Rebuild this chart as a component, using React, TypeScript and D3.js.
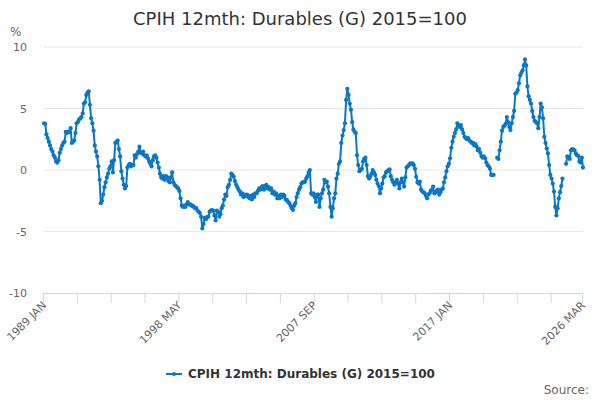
import React from 'react'
import { scalePoint, scaleLinear, line } from 'd3'

// CPIH 12 month rate, durables, monthly from 1989 JAN to 2026 MAR (null = no value)
const YEARS = [
  1989, 1990, 1991, 1992, 1993, 1994, 1995, 1996, 1997, 1998, 1999, 2000, 2001, 2002, 2003, 2004, 2005, 2006, 2007,
  2008, 2009, 2010, 2011, 2012, 2013, 2014, 2015, 2016, 2017, 2018, 2019, 2020, 2021, 2022, 2023, 2024, 2025, 2026
]
const MONTHS = ['JAN', 'FEB', 'MAR', 'APR', 'MAY', 'JUN', 'JUL', 'AUG', 'SEP', 'OCT', 'NOV', 'DEC']

const VALUES: (number | null)[][] = [
  [3.8, 3.75, 2.9, 2.6, 2.3, 2.0, 1.7, 1.5, 1.2, 1.0, 0.7, 0.6],
  [0.8, 1.4, 1.7, 2.0, 2.2, 2.3, 3.1, 3.0, 3.1, 3.1, 3.4, 2.2],
  [2.3, 2.4, 3.0, 3.8, 3.9, 4.1, 4.2, 4.3, 4.6, 5.4, 5.5, 6.1],
  [6.3, 6.4, 5.3, 4.2, 3.8, 3.2, 2.0, 1.5, 1.1, 0.3, -0.8, -2.7],
  [-2.5, -2.0, -1.4, -1.0, -0.6, -0.3, 0.1, 0.3, 0.7, -0.2, 0.8, 2.2],
  [2.3, 2.4, 1.7, 1.1, -0.1, -0.7, -1.2, -1.5, -1.3, 0.2, 0.4, 0.5],
  [0.3, 0.4, 0.4, 1.2, 1.0, 1.3, 1.5, 1.9, 1.4, 1.35, 1.5, 1.2],
  [1.1, 1.2, 0.95, 0.7, 0.5, 0.3, 0.8, 1.1, 1.2, 1.0, 0.6, 0.2],
  [-0.3, -0.6, -0.7, -0.5, -0.8, -0.5, -0.6, -0.9, -1.0, -0.6, -0.2, -1.0],
  [-1.2, -1.3, -1.4, -1.5, -1.7, -2.3, -2.9, -3.0, -2.9, -3.0, -2.8, -2.6],
  [-2.8, -2.8, -2.9, -2.9, -3.0, -3.1, -3.1, -3.3, -3.4, -3.5, -3.8, -4.75],
  [-4.4, -3.9, -4.0, -3.8, -3.8, -3.4, -3.3, -3.25, -3.3, -3.7, -4.1, -3.3],
  [-3.4, -3.8, -3.6, -3.1, -2.9, -2.4, -2.0, -2.1, -1.4, -1.2, -0.8, -0.3],
  [-0.4, -0.55, -0.9, -1.2, -1.4, -1.6, -1.75, -2.0, -1.9, -2.2, -2.0, -2.1],
  [-2.0, -2.2, -2.3, -2.1, -2.4, -2.0, -2.2, -1.9, -1.9, -1.7, -1.5, -1.6],
  [-1.4, -1.3, -1.6, -1.3, -1.2, -1.5, -1.4, -1.6, -1.5, -1.9, -1.75, -2.0],
  [-1.9, -2.3, -2.1, -2.3, -2.0, -2.2, -2.0, -2.1, -2.4, -2.45, -2.6, -2.7],
  [-2.9, -3.1, -3.25, -2.9, -2.7, -2.2, -1.9, -1.6, -1.4, -1.1, -1.0, -1.0],
  [-0.95, -0.7, -0.5, -0.2, 0.0, -1.9, -2.0, -1.9, -2.2, -2.6, -2.0, -2.0],
  [-3.0, -2.3, -1.9, -1.6, -0.8, -1.0, -0.95, -1.35, -1.9, -3.0, -3.8, -3.1],
  [-2.3, -1.9, -0.7, -0.3, 0.5, 0.7, 2.2, 2.8, 3.25, 3.8, 5.7, 6.6],
  [6.1, 5.4, 4.9, 3.9, 3.3, 3.1, 3.0, 1.2, 0.4, -0.1, 0.0, 0.1],
  [0.7, 0.9, 1.0, 0.4, -0.5, -0.7, -0.55, -0.3, 0.0, -0.2, -0.4, -0.8],
  [-1.1, -1.3, -1.9, -1.5, -1.1, -0.6, -0.5, -0.2, -0.1, 0.0, 0.05, -0.5],
  [-0.8, -1.0, -1.2, -1.0, -0.8, -1.1, -1.5, -1.0, -0.7, -1.0, -1.35, -0.6],
  [0.2, 0.3, 0.4, 0.55, 0.5, 0.55, 0.4, 0.1, -0.55, -1.0, -1.1, -0.95],
  [-1.6, -1.75, -1.8, -1.9, -2.1, -2.3, -2.0, -1.9, -1.7, -1.6, -1.35, -1.9],
  [-1.8, -1.7, -1.6, -2.0, -1.8, -1.6, -1.5, -1.0, -0.6, -0.1, 0.3, 0.5],
  [0.95, 1.8, 2.3, 2.7, 3.0, 3.3, 3.8, 3.6, 3.5, 3.65, 3.3, 3.0],
  [2.7, 2.6, 2.5, 2.6, 2.4, 2.3, 2.2, 2.2, 2.0, 2.1, 1.9, 1.6],
  [1.7, 1.4, 1.1, 1.0, 1.1, 0.95, 0.6, 0.4, 0.3, 0.1, -0.4, -0.4],
  [-0.4, null, null, 1.0, 0.9, 1.6, 2.3, 3.2, 3.5, 3.6, 3.75, 4.3],
  [3.9, 3.5, 3.25, 3.8, 4.3, 4.8, 6.2, 6.3, 6.5, 7.05, 7.7, 7.9],
  [8.1, 8.5, 9.0, 8.5, 6.8, 6.0, 5.7, 5.4, 4.8, 4.3, 4.0, 3.9],
  [3.8, 3.4, 4.3, 5.4, 5.1, 4.2, 2.7, 2.2, 1.75, 1.35, 0.4, -0.4],
  [-0.7, -1.1, -1.75, -3.0, -3.7, -3.1, -2.3, -1.8, -1.3, -0.7, null, null],
  [0.5, 1.1, 1.0, 0.9, 1.6, 1.7, 1.65, 1.6, 1.35, 1.2, 1.15, 0.7],
  [0.6, 1.0, 0.2]
]

const X_LABELS = ['1989 JAN', '1998 MAY', '2007 SEP', '2017 JAN', '2026 MAR']
const Y_TICKS = [-10, -5, 0, 5, 10]
const TICK_EVERY = 28

const TITLE = 'CPIH 12mth: Durables (G) 2015=100'
const SERIES_NAME = 'CPIH 12mth: Durables (G) 2015=100'

const COLOR = '#0a77c4'
const FONT = '"DejaVu Sans", Verdana, sans-serif'

const WIDTH = 600
const HEIGHT = 400
const PLOT = { left: 44, right: 583, top: 47, bottom: 293 }

type Point = { cat: string; value: number | null }

const data: Point[] = []
YEARS.forEach((year, yi) => {
  VALUES[yi].forEach((value, mi) => {
    data.push({ cat: `${year} ${MONTHS[mi]}`, value })
  })
})

export default function App() {
  const categories = data.map((d) => d.cat)
  const x = scalePoint<string>().domain(categories).range([PLOT.left, PLOT.right])
  const y = scaleLinear().domain([-10, 10]).range([PLOT.bottom, PLOT.top])

  const path = line<Point>()
    .defined((d) => d.value !== null)
    .x((d) => x(d.cat) as number)
    .y((d) => y(d.value as number))(data)

  const tickCats = categories.filter((_, i) => i % TICK_EVERY === 0 || i === categories.length - 1)

  return (
    <div style={{ position: 'absolute', left: 0, top: 0 }}>
      <svg width={WIDTH} height={HEIGHT} style={{ display: 'block', fontFamily: FONT }}>
        <rect width={WIDTH} height={HEIGHT} fill="#ffffff" />
        <text x={WIDTH / 2} y={25} textAnchor="middle" fontSize={18} fill="#333333">
          {TITLE}
        </text>

        <g className="y-axis">
          <text x={10} y={36} fontSize={12} fill="#666666">
            %
          </text>
          {Y_TICKS.map((t) => (
            <g key={t}>
              {t !== -10 && (
                <line x1={PLOT.left} x2={PLOT.right} y1={y(t)} y2={y(t)} stroke="#e6e6e6" strokeWidth={1} />
              )}
              <text x={27} y={y(t) + 4} textAnchor="end" fontSize={11} fill="#666666">
                {t}
              </text>
            </g>
          ))}
        </g>

        <g className="x-axis">
          <line x1={PLOT.left} x2={PLOT.right} y1={PLOT.bottom + 0.5} y2={PLOT.bottom + 0.5} stroke="#ccd6eb" />
          {tickCats.map((c) => (
            <line
              key={c}
              x1={(x(c) as number) - 0.5}
              x2={(x(c) as number) - 0.5}
              y1={PLOT.bottom}
              y2={PLOT.bottom + 10}
              stroke="#ccd6eb"
            />
          ))}
          {X_LABELS.map((c) => (
            <text
              key={c}
              transform={`translate(${(x(c) as number) + 3}, ${PLOT.bottom + 13}) rotate(-45)`}
              textAnchor="end"
              fontSize={11}
              fill="#666666"
            >
              {c}
            </text>
          ))}
        </g>

        <g className="series">
          <path d={path || ''} fill="none" stroke={COLOR} strokeWidth={2} strokeLinejoin="round" />
          {data
            .filter((d) => d.value !== null)
            .map((d) => (
              <circle key={d.cat} cx={x(d.cat) as number} cy={y(d.value as number)} r={2.1} fill={COLOR} />
            ))}
        </g>

        <g className="legend" transform="translate(166, 374)">
          <line x1={0} x2={16} y1={0} y2={0} stroke={COLOR} strokeWidth={2} />
          <circle cx={8} cy={0} r={2} fill={COLOR} />
          <text x={22} y={4} fontSize={12} fontWeight="bold" fill="#333333">
            {SERIES_NAME}
          </text>
        </g>

        <text x={589} y={394} textAnchor="end" fontSize={12} fill="#666666">
          Source:
        </text>
      </svg>
    </div>
  )
}
